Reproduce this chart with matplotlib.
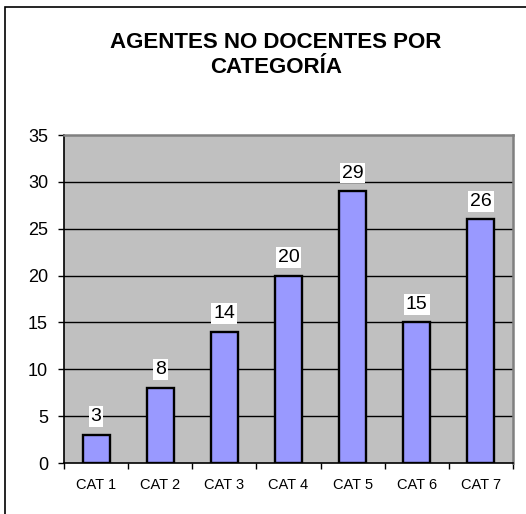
#!/usr/bin/env python3
"""
Agentes no docentes por categoria - bar chart
"""
import matplotlib
matplotlib.use('Agg')
import matplotlib.pyplot as plt
from matplotlib.patches import Rectangle

categories = ['CAT 1', 'CAT 2', 'CAT 3', 'CAT 4', 'CAT 5', 'CAT 6', 'CAT 7']
agentes = [3, 8, 14, 20, 29, 15, 26]
y_ticks = [0, 5, 10, 15, 20, 25, 30, 35]

plt.rcParams['font.family'] = ['Liberation Sans', 'DejaVu Sans']

W, H = 526, 514
fig = plt.figure(figsize=(W / 100, H / 100), dpi=100)
fig.patch.set_facecolor('white')

# plot area in pixels: left 64, right 513, top 135, bottom 463
ax = fig.add_axes([64 / W, 1 - 463 / H, (513 - 64) / W, (463 - 135) / H])
ax.set_facecolor('#C0C0C0')

x = list(range(len(categories)))
ax.bar(x, agentes, width=0.42, color='#9999FF', edgecolor='black',
       linewidth=1.7, zorder=3)

for xi, v in zip(x, agentes):
    ax.annotate(str(v), (xi, v), xytext=(0, 7), textcoords='offset points',
                ha='center', va='bottom', fontsize=14, zorder=4,
                bbox=dict(boxstyle='square,pad=0.1', fc='white', ec='none'))

ax.set_xlim(-0.5, len(categories) - 0.5)
ax.set_ylim(0, 35)
ax.set_yticks(y_ticks)
ax.tick_params(axis='y', direction='out', length=4.5, width=1, labelsize=13,
               pad=7)

ax.set_xticks(x)
ax.set_xticklabels(categories)
ax.tick_params(axis='x', which='major', length=0, labelsize=10.5, pad=11)
ax.set_xticks([i - 0.5 for i in range(len(categories) + 1)], minor=True)
ax.tick_params(axis='x', which='minor', direction='out', length=4.5, width=1)

for yv in y_ticks[1:-1]:
    ax.axhline(yv, color='black', linewidth=1.0, zorder=1)

ax.spines['left'].set_color('black')
ax.spines['bottom'].set_color('black')
ax.spines['left'].set_linewidth(1.2)
ax.spines['bottom'].set_linewidth(1.2)
ax.spines['top'].set_color('#808080')
ax.spines['right'].set_color('#808080')
ax.spines['top'].set_linewidth(1.8)
ax.spines['right'].set_linewidth(1.8)

fig.text(276 / W, 1 - 55 / H, 'AGENTES NO DOCENTES POR\nCATEGORÍA',
         ha='center', va='center', fontsize=16, fontweight='bold',
         linespacing=1.25)

# outer chart frame (only left and top edges fall inside the image)
fig.add_artist(Rectangle((5 / W, -0.2), 1.2, 1.2 - 7 / H,
                         transform=fig.transFigure, fill=False,
                         edgecolor='black', linewidth=1.2))

fig.savefig('out.png', dpi=100)
